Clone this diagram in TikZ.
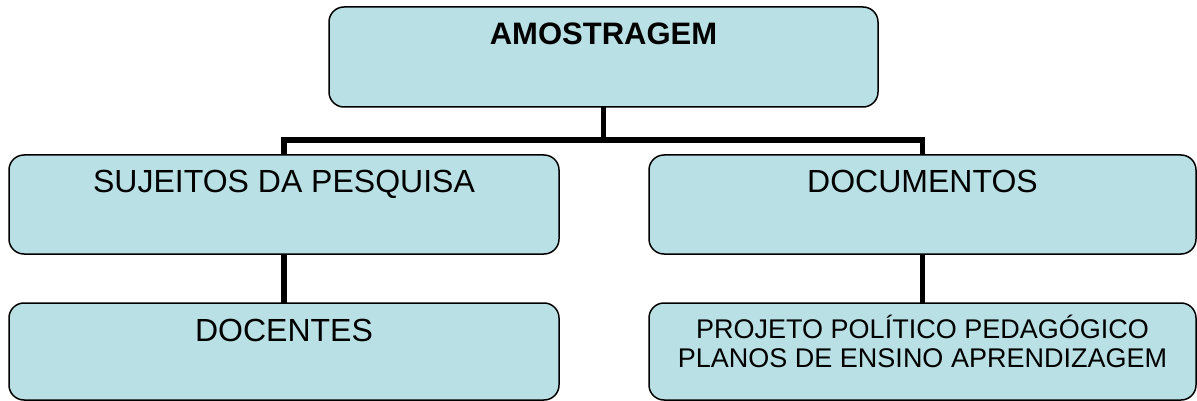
\documentclass[tikz,border=0pt]{standalone}
\usepackage{fontspec}
\setmainfont{Liberation Sans}
\definecolor{boxfill}{RGB}{185,224,228}
\begin{document}
\begin{tikzpicture}[x=1pt,y=-1pt,
  box/.style={draw=black,line width=1.5pt,fill=boxfill,rounded corners=15pt,inner sep=0pt,outer sep=0pt},
  conn/.style={draw=black,line width=5.5pt},
  lbl/.style={anchor=base,inner sep=0pt,font=\fontsize{32}{36}\selectfont},
  small/.style={anchor=base,inner sep=0pt,font=\fontsize{27}{30}\selectfont}]
\useasboundingbox (0,0) rectangle (1197,401);
% boxes
\node[box,minimum width=549pt,minimum height=100pt] (top) at (603.5,57) {};
\node[box,minimum width=550pt,minimum height=99pt] (suj) at (284,204.5) {};
\node[box,minimum width=547pt,minimum height=99pt] (doc) at (922.5,204.5) {};
\node[box,minimum width=550pt,minimum height=97pt] (dcs) at (284,351.5) {};
\node[box,minimum width=547pt,minimum height=97pt] (ppp) at (922.5,351.5) {};
% texts
\node[lbl,font=\bfseries\fontsize{31}{36}\selectfont] (ttop) at (603.5,45) {AMOSTRAGEM};
\node[lbl] (tsuj) at (284,193) {SUJEITOS DA PESQUISA};
\node[lbl] (tdoc) at (922.5,193) {DOCUMENTOS};
\node[lbl] (tdcs) at (284,341) {DOCENTES};
\node[small] (tppp1) at (922.5,338) {PROJETO POLÍTICO PEDAGÓGICO};
\node[small] (tppp2) at (922.5,367) {PLANOS DE ENSINO APRENDIZAGEM};
% connectors
\coordinate (junc) at (603.5,140);
\draw[conn] (top.south) -- (junc);
\draw[conn] (suj.north) |- (junc) -| (doc.north);
\draw[conn] (suj.south) -- (dcs.north);
\draw[conn] (doc.south) -- (ppp.north);
\end{tikzpicture}
\end{document}
